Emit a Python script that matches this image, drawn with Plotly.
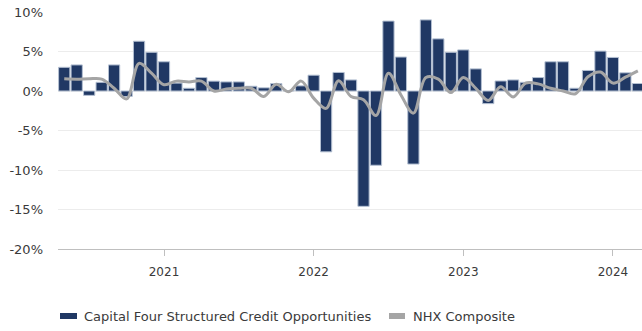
import plotly.graph_objects as go

# ---- data -------------------------------------------------------------
months = [
    "2020-05", "2020-06", "2020-07", "2020-08", "2020-09", "2020-10", "2020-11", "2020-12",
    "2021-01", "2021-02", "2021-03", "2021-04", "2021-05", "2021-06", "2021-07", "2021-08",
    "2021-09", "2021-10", "2021-11", "2021-12",
    "2022-01", "2022-02", "2022-03", "2022-04", "2022-05", "2022-06", "2022-07", "2022-08",
    "2022-09", "2022-10", "2022-11", "2022-12",
    "2023-01", "2023-02", "2023-03", "2023-04", "2023-05", "2023-06", "2023-07", "2023-08",
    "2023-09", "2023-10", "2023-11", "2023-12",
    "2024-01", "2024-02", "2024-03",
]

capital_four = [
    3.0, 3.3, -0.55, 1.1, 3.3, -0.7, 6.3, 4.9,
    3.7, 1.0, 0.35, 1.7, 1.25, 1.15, 1.15, 0.6, 0.4, 0.95, 0.05, 0.65,
    2.0, -7.7, 2.35, 1.4, -14.6, -9.4, 8.85, 4.3, -9.25, 9.0, 6.6, 4.9,
    5.2, 2.8, -1.6, 1.27, 1.4, 1.1, 1.7, 3.7, 3.7, 0.35, 2.6, 5.05,
    4.25, 2.3, 0.95,
]

nhx_composite = [
    1.55, 1.5, 1.55, 1.5, 0.35, -1.0, 3.5, 2.25,
    0.8, 1.25, 1.15, 1.25, 0.0, 0.25, 0.35, 0.35, -0.7, 0.85, -0.1, 1.25,
    -0.9, -2.2, 1.3, -0.7, -1.1, -3.1, 2.25, -0.5, -2.8, 1.7, 1.5, -0.2,
    1.7, 0.35, -1.2, 0.55, -0.75, 1.0, 0.9, 0.35, 0.0, -0.35, 1.8, 2.4,
    1.0, 1.75, 2.55,
]

year_ticks = ["2021-01", "2022-01", "2023-01", "2024-01"]
year_labels = ["2021", "2022", "2023", "2024"]

y_ticks = [10, 5, 0, -5, -10, -15, -20]
y_labels = ["10%", "5%", "0%", "-5%", "-10%", "-15%", "-20%"]

series_names = ["Capital Four Structured Credit Opportunities", "NHX Composite"]

# ---- style ------------------------------------------------------------
NAVY = "#203864"
GREY = "#a5a5a5"
FONT = "DejaVu Sans"
TXT = "#3a3a3a"

W, H = 642, 331
L, R, T, B = 58, 0, 12, 82

fig = go.Figure()
fig.add_trace(go.Bar(
    x=months, y=capital_four, name=series_names[0],
    marker=dict(color=NAVY, line=dict(color="#b4c0d2", width=1)),
    showlegend=False,
))
fig.add_trace(go.Scatter(
    x=months, y=nhx_composite, name=series_names[1], mode="lines",
    line=dict(color=GREY, width=3, shape="spline", smoothing=1.0),
    showlegend=False,
))

n = len(months)
plot_w = W - L - R
pitch = 12.47
span = plot_w / pitch

fig.update_layout(
    width=W, height=H,
    margin=dict(l=L, r=R, t=T, b=B, pad=0),
    plot_bgcolor="white", paper_bgcolor="white",
    bargap=0.1,
    font=dict(family=FONT, size=12, color=TXT),
)
fig.update_xaxes(
    type="category",
    categoryorder="array", categoryarray=months,
    range=[-0.5, -0.5 + span],
    tickmode="array", tickvals=year_ticks, ticktext=year_labels,
    ticks="outside", ticklen=6, tickcolor="#bfbfbf", tickwidth=1,
    showline=True, linecolor="#bfbfbf", linewidth=1,
    showgrid=False, zeroline=False,
    tickfont=dict(family=FONT, size=12, color=TXT),
    ticklabelstandoff=6,
)
fig.update_yaxes(
    range=[-20, 10],
    tickmode="array", tickvals=y_ticks, ticktext=y_labels,
    showgrid=True, gridcolor="#ececec", gridwidth=1,
    zeroline=False, showline=False, ticks="",
    tickfont=dict(family=FONT, size=13, color=TXT),
    ticklabelstandoff=14,
)


def px_x(px):
    return (px - L) / plot_w


def px_y(py):
    plot_h = H - T - B
    return (H - B - py) / plot_h


# manual legend (wide flat swatches as in the reference)
legend_items = [
    (60, 77, 82, NAVY, series_names[0]),
    (389, 405, 411, GREY, series_names[1]),
]
for x0, x1, xt, col, label in legend_items:
    fig.add_shape(
        type="rect", xref="paper", yref="paper",
        x0=px_x(x0), x1=px_x(x1), y0=px_y(319), y1=px_y(313),
        fillcolor=col, line=dict(width=0),
    )
    fig.add_annotation(
        xref="paper", yref="paper", x=px_x(xt), y=px_y(316.5),
        xanchor="left", yanchor="middle", showarrow=False,
        text=label, font=dict(family=FONT, size=13, color=TXT),
    )

fig.write_html("out.html")
